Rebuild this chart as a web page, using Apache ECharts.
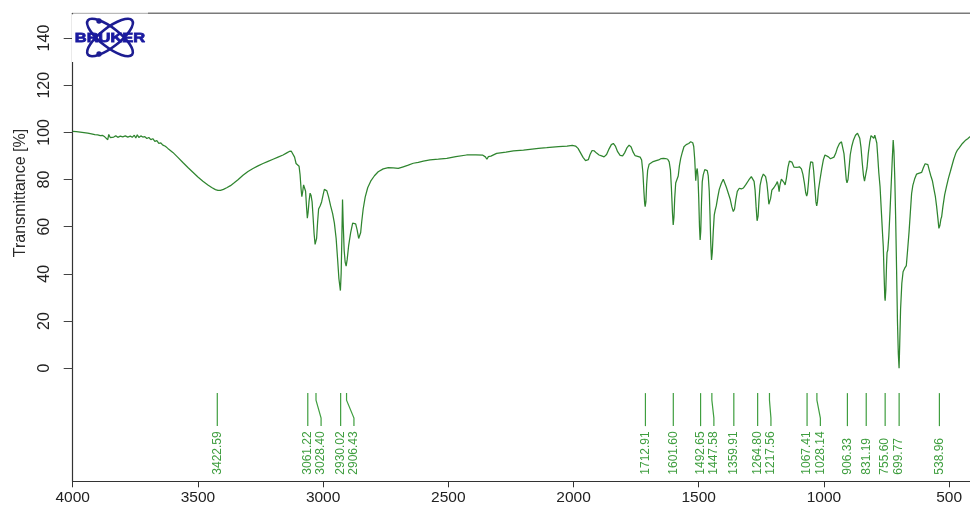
<!DOCTYPE html>
<html>
<head>
<meta charset="utf-8">
<script src="https://cdn.jsdelivr.net/npm/echarts@6/dist/echarts.min.js"></script>
<style>
  html, body { margin: 0; padding: 0; background: #ffffff; }
  #chart { width: 970px; height: 505px; }
</style>
</head>
<body>
<div id="chart"></div>
<script>
// IR spectrum: wavenumber [cm-1] and transmittance [%]
const wavenumbers = [
  4000, 3985, 3970, 3955, 3940, 3925, 3912, 3900, 3890, 3880, 3872, 3866, 3860, 3856, 3850, 3844, 3836, 3828, 3820, 3810,
  3800, 3790, 3780, 3770, 3762, 3754, 3748, 3742, 3736, 3728, 3720, 3712, 3704, 3696, 3688, 3680, 3672, 3664, 3656, 3648,
  3640, 3630, 3620, 3600, 3580, 3560, 3540, 3520, 3500, 3480, 3460, 3445, 3430, 3420, 3410, 3398, 3385, 3370, 3355, 3340,
  3320, 3300, 3280, 3260, 3240, 3220, 3200, 3180, 3160, 3145, 3135, 3127, 3120, 3114, 3108, 3102, 3096, 3092, 3088, 3085,
  3082, 3078, 3074, 3070, 3066, 3063, 3060, 3056, 3052, 3048, 3044, 3040, 3036, 3032, 3029, 3026, 3022, 3018, 3012, 3006,
  3000, 2995, 2990, 2985, 2978, 2970, 2962, 2955, 2948, 2942, 2937, 2931, 2928, 2925, 2922.5, 2920, 2916, 2912, 2908, 2904,
  2898, 2890, 2882, 2876, 2870, 2864, 2858, 2854, 2850, 2846, 2840, 2832, 2822, 2810, 2795, 2780, 2760, 2740, 2720, 2700,
  2680, 2660, 2640, 2620, 2600, 2573, 2540, 2506, 2470, 2427, 2390, 2362, 2352, 2346, 2340, 2330, 2307, 2270, 2240, 2200,
  2174, 2140, 2107, 2060, 2026, 2005, 1992, 1982, 1972, 1962, 1952, 1946, 1941, 1934, 1926, 1918, 1908, 1898, 1888, 1878,
  1868, 1858, 1849, 1841, 1833, 1824, 1814, 1804, 1796, 1787, 1778, 1770, 1762, 1754, 1744, 1734, 1728, 1723, 1719, 1716,
  1714, 1711, 1708, 1704, 1698, 1692, 1682, 1670, 1660, 1650, 1641, 1632, 1624, 1618, 1613, 1609, 1605, 1602, 1599, 1596,
  1592, 1589, 1586, 1582, 1577, 1572, 1565, 1559, 1550, 1540, 1532, 1528, 1524, 1520, 1516, 1512, 1509, 1506, 1503, 1500,
  1497, 1494.5, 1492, 1489, 1486, 1482, 1476, 1471, 1466, 1462, 1458, 1455, 1452, 1449, 1446, 1442, 1438, 1434, 1430, 1424,
  1418, 1410, 1402, 1396, 1390, 1382, 1374, 1368, 1362, 1357, 1352, 1346, 1338, 1330, 1322, 1312, 1300, 1290, 1283, 1279,
  1275, 1271, 1267, 1263, 1259, 1255, 1249, 1242, 1238, 1233, 1228, 1224, 1220, 1217, 1213, 1208, 1200, 1192, 1186, 1182,
  1179, 1176, 1170, 1164, 1160, 1155, 1150, 1144, 1138, 1134, 1128, 1120, 1114, 1106, 1098, 1090, 1084, 1078, 1073, 1069,
  1066, 1062, 1058, 1053, 1049, 1045, 1041, 1036, 1032, 1029, 1026, 1022, 1016, 1009, 1002, 996, 989, 982, 974, 967,
  960, 953, 946, 938, 930, 925, 920, 915, 911, 908, 904, 900, 895, 889, 882, 874, 866, 861, 857, 852,
  847, 842, 838, 835, 832, 828, 823, 817, 812, 809, 805, 801, 797, 793, 789, 785, 781, 776, 770, 766,
  763, 760, 757, 755.6, 753, 750, 748, 745, 741, 736, 731, 727, 723.5, 720.5, 717, 713.5, 710, 706.5, 703, 700,
  697.5, 694, 689, 684, 678, 671, 666, 660, 655, 650, 645, 638, 630, 622, 616, 610, 603, 596, 590, 585,
  579, 573, 567, 561, 555, 550, 545, 541, 537, 533, 530, 525, 518, 511, 503, 495, 490, 482, 474, 467,
  460, 453, 447, 441, 436, 431, 426, 421, 417, 410, 400
];
const transmittance = [
  100.4, 100.3, 100.1, 99.9, 99.7, 99.4, 99.0, 98.9, 98.6, 98.7, 98.1, 98.6, 96.9, 99.1, 97.8, 98.5, 98.0, 98.6, 97.9, 98.4,
  98.1, 98.5, 98.0, 98.4, 97.9, 98.8, 97.6, 99.0, 97.8, 98.5, 98.0, 98.2, 97.4, 97.8, 96.9, 97.3, 96.2, 96.5, 95.3, 95.5,
  94.6, 94.1, 93.2, 91.5, 89.4, 87.2, 85.1, 83.1, 81.1, 79.3, 77.7, 76.6, 75.7, 75.4, 75.4, 75.8, 76.5, 77.4, 78.6, 79.9,
  81.8, 83.4, 84.7, 85.8, 86.8, 87.7, 88.6, 89.5, 90.4, 91.3, 91.9, 92.0, 91.3, 89.5, 86.8, 86.3, 85.6, 82.0, 76.0, 72.7,
  74.5, 77.7, 77.8, 75.0, 68.0, 63.6, 66.0, 71.0, 74.2, 73.2, 70.5, 64.0, 57.0, 52.5, 51.8, 55.0, 62.0, 67.5, 68.8, 70.5,
  73.5, 75.8, 76.3, 75.2, 72.5, 68.8, 65.5, 61.5, 55.0, 46.0, 38.0, 32.9, 40.0, 56.0, 71.5, 62.0, 50.0, 45.0, 43.3, 46.0,
  52.0, 57.5, 61.5, 62.1, 61.2, 58.5, 55.0, 54.7, 57.5, 62.0, 67.5, 72.5, 76.5, 79.3, 81.6, 83.3, 84.5, 85.0, 84.9, 84.7,
  85.4, 86.1, 86.9, 87.3, 87.8, 88.3, 88.6, 89.0, 89.7, 90.4, 90.5, 90.3, 89.6, 88.6, 89.7, 89.9, 91.1, 91.6, 92.1, 92.5,
  92.8, 93.2, 93.5, 94.0, 94.2, 94.5, 94.2, 93.2, 91.3, 89.4, 88.0, 87.6, 88.4, 90.6, 92.3, 92.2, 91.2, 90.4, 90.0, 89.6,
  90.6, 93.0, 94.8, 95.3, 94.2, 91.8, 90.2, 90.0, 91.3, 93.4, 94.6, 93.8, 91.6, 90.1, 89.8, 89.5, 88.3, 83.0, 75.0, 70.0,
  68.5, 70.5, 78.0, 84.0, 86.5, 87.1, 87.6, 88.0, 88.3, 88.9, 89.0, 88.9, 88.6, 87.5, 84.0, 76.0, 66.0, 60.7, 64.0, 72.0,
  78.5, 79.1, 78.4, 81.5, 86.0, 89.0, 91.8, 93.9, 94.8, 95.3, 96.0, 96.4, 95.6, 94.0, 88.5, 79.5, 83.5, 84.7, 81.0, 72.0,
  60.0, 54.4, 58.0, 70.0, 79.0, 82.0, 84.2, 84.7, 83.8, 81.5, 75.0, 65.0, 53.0, 45.9, 49.0, 58.0, 65.0, 67.1, 68.8, 72.5,
  75.8, 78.3, 80.1, 79.3, 76.8, 74.2, 71.5, 68.5, 66.4, 67.5, 71.5, 75.0, 76.3, 76.0, 76.4, 77.8, 79.8, 81.2, 80.6, 79.2,
  75.5, 68.5, 62.5, 64.5, 72.0, 77.5, 80.5, 82.3, 82.6, 81.2, 78.5, 74.5, 69.5, 69.3, 72.0, 75.5, 76.5, 77.8, 79.1, 77.2,
  74.8, 77.5, 80.2, 80.0, 78.8, 77.7, 80.5, 85.0, 87.8, 88.3, 87.4, 85.3, 84.7, 85.2, 85.4, 84.5, 82.2, 78.5, 74.5, 73.0,
  74.0, 78.5, 84.0, 87.5, 88.3, 87.3, 83.5, 76.5, 70.5, 68.8, 70.5, 75.5, 79.8, 84.5, 88.5, 90.4, 90.1, 89.6, 88.8, 88.3,
  89.5, 91.1, 93.5, 95.3, 96.0, 95.2, 91.0, 85.0, 80.0, 78.6, 80.0, 84.5, 90.5, 94.0, 96.8, 98.8, 99.6, 99.4, 97.5, 93.5,
  87.0, 81.5, 79.3, 79.1, 80.0, 85.0, 91.0, 96.0, 98.6, 98.9, 98.3, 97.5, 98.8, 98.4, 95.5, 89.5, 83.0, 77.0, 65.0, 57.0,
  51.5, 40.0, 30.0, 28.6, 33.0, 44.0, 49.0, 50.1, 56.0, 67.0, 79.0, 89.0, 96.7, 92.0, 80.0, 62.8, 42.0, 20.0, 6.0, 0.0,
  10.0, 25.0, 36.0, 40.9, 42.3, 43.5, 50.0, 58.0, 66.0, 74.0, 77.5, 80.2, 82.3, 82.6, 82.2, 83.0, 85.0, 86.7, 87.1, 86.3,
  83.8, 81.5, 79.5, 76.0, 72.7, 68.5, 63.5, 59.3, 60.5, 63.2, 64.2, 68.5, 73.5, 76.9, 80.5, 83.5, 85.4, 88.5, 91.0, 92.5,
  93.4, 94.2, 95.3, 96.0, 96.5, 96.1, 97.3, 97.6, 98.1, 98.5, 98.8
];

// Picked peak positions [cm-1]
const peakPositions = [
  3422.59, 3061.22, 3028.40, 2930.02, 2906.43, 1712.91, 1601.60, 1492.65, 1447.58, 1359.91,
  1264.80, 1217.56, 1067.41, 1028.14, 906.33, 831.19, 755.60, 699.77, 538.96
];

const xTicks = [4000, 3500, 3000, 2500, 2000, 1500, 1000, 500];
const yTicks = [0, 20, 40, 60, 80, 100, 120, 140];

const spectrumColor = '#2f852f';
const peakColor = '#3f9e3f';
const logoBlue = '#1d1d92';
const PEAK_GAP = 13.3;

// Horizontal label positions: keep neighbouring peak labels at least PEAK_GAP apart
function peakLabelXs(api) {
  const out = [];
  peakPositions.forEach(function (w, i) {
    const x = api.coord([w, 0])[0];
    out.push(i === 0 ? x : Math.max(x, out[i - 1] + PEAK_GAP));
  });
  return out;
}

function renderPeak(params, api) {
  const i = params.dataIndex;
  const w = api.value(0);
  const x = api.coord([w, 0])[0];
  const lx = peakLabelXs(api)[i];
  const top = api.coord([w, -10.6])[1];
  const textBase = api.coord([w, -45.2])[1];
  const pts = (lx - x > 0.5)
    ? [[x, top], [x, top + 7], [lx, top + 25], [lx, top + 33]]
    : [[x, top], [x, top + 33]];
  return {
    type: 'group',
    children: [
      { type: 'polyline', shape: { points: pts },
        style: { stroke: peakColor, lineWidth: 1.2, fill: null } },
      { type: 'text', x: lx, y: textBase, rotation: Math.PI / 2,
        style: { text: w.toFixed(2), fill: peakColor, fontSize: 12,
                 fontFamily: '"Liberation Sans", Arial, sans-serif',
                 align: 'left', verticalAlign: 'middle' } }
    ]
  };
}

const chart = echarts.init(document.getElementById('chart'), null, { renderer: 'canvas' });

chart.setOption({
  animation: false,
  backgroundColor: '#ffffff',
  grid: { left: 72.7, right: -4.2, top: 13.3, bottom: 23.7, outerBoundsMode: 'none' },
  xAxis: {
    type: 'value', min: 400, max: 4000, inverse: true,
    axisLine: { onZero: false, lineStyle: { color: '#333', width: 1.2 } },
    axisTick: { length: 6, customValues: xTicks, lineStyle: { color: '#333' } },
    axisLabel: { customValues: xTicks, fontSize: 15.5, margin: 8, color: '#222',
                 formatter: function (v) { return String(v); },
                 fontFamily: '"Liberation Sans", Arial, sans-serif' },
    splitLine: { show: false }
  },
  yAxis: {
    type: 'value', min: -48, max: 150.5,
    axisLine: { show: true, onZero: false, lineStyle: { color: '#333', width: 1.2 } },
    axisTick: { show: true, length: 9, customValues: yTicks, lineStyle: { color: '#444' } },
    axisLabel: { customValues: yTicks, rotate: 90, margin: 20, fontSize: 16, color: '#222',
                 formatter: function (v) { return String(v); },
                 fontFamily: '"Liberation Sans Narrow", "Liberation Sans", Arial, sans-serif' },
    splitLine: { show: false }
  },
  series: [
    {
      type: 'line',
      data: wavenumbers.map(function (w, i) { return [w, transmittance[i]]; }),
      showSymbol: false,
      lineStyle: { color: spectrumColor, width: 1.25 },
      silent: true
    },
    {
      type: 'custom',
      data: peakPositions.map(function (w) { return [w, 0]; }),
      encode: { x: 0, y: 1 },
      renderItem: renderPeak,
      clip: false,
      silent: true
    }
  ],
  graphic: [
    { type: 'line', z: 100, shape: { x1: 148, y1: 13.3, x2: 975, y2: 13.3 },
      style: { stroke: '#7a7a7a', lineWidth: 1.5 } },
    { type: 'rect', z: 100, shape: { x: 72, y: 14.2, width: 76, height: 47.8 },
      style: { fill: '#ffffff' } },
    { type: 'line', z: 100, shape: { x1: 72.7, y1: 13.3, x2: 148, y2: 13.3 },
      style: { stroke: '#a8a8a8', lineWidth: 1 } },
    // logo
    { type: 'ellipse', z: 101, x: 110, y: 37.5, rotation: 0.66,
      shape: { cx: 0, cy: 0, rx: 28, ry: 9.5 },
      style: { fill: null, stroke: logoBlue, lineWidth: 2.6 } },
    { type: 'ellipse', z: 101, x: 110, y: 37.5, rotation: -0.66,
      shape: { cx: 0, cy: 0, rx: 28, ry: 9.5 },
      style: { fill: null, stroke: logoBlue, lineWidth: 2.6 } },
    { type: 'circle', z: 101, shape: { cx: 99, cy: 21, r: 2.7 }, style: { fill: logoBlue } },
    { type: 'circle', z: 101, shape: { cx: 99, cy: 54, r: 2.7 }, style: { fill: logoBlue } },
    { type: 'text', z: 102, x: 110, y: 38.2, scaleX: 1.22,
      style: { text: 'BRUKER', fill: '#1a1aa0', fontSize: 13.5, fontWeight: 'bold',
               fontFamily: '"Liberation Sans", Arial, sans-serif',
               align: 'center', verticalAlign: 'middle',
               stroke: '#1a1aa0', lineWidth: 0.8 } },
    // y-axis title
    { type: 'text', z: 100, x: 21, y: 193, rotation: Math.PI / 2,
      style: { text: 'Transmittance [%]', fill: '#2a2a2a', fontSize: 16,
               fontFamily: '"Liberation Sans", Arial, sans-serif',
               align: 'center', verticalAlign: 'middle' } }
  ]
});
</script>
</body>
</html>
